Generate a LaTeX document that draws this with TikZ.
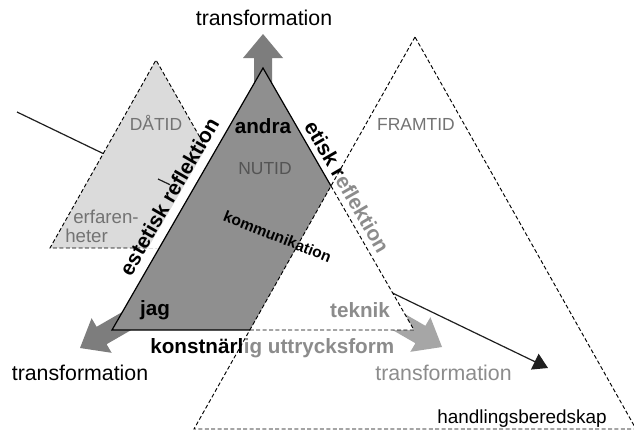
\documentclass[tikz,border=0pt]{standalone}
\usepackage{fontspec}
\setmainfont{Liberation Sans}
\usetikzlibrary{arrows.meta}
\definecolor{darkfill}{gray}{0.56}
\definecolor{pastfill}{gray}{0.86}
\definecolor{arrowgray}{gray}{0.49}
\definecolor{lightarrow}{gray}{0.65}
\definecolor{labelgray}{gray}{0.45}
\definecolor{nowgray}{gray}{0.33}
\definecolor{softgray}{gray}{0.55}
\definecolor{inkline}{gray}{0.12}

\begin{document}
\begin{tikzpicture}[x=0.75pt,y=-0.75pt,
  solidedge/.style={draw=black, line width=0.9pt, line join=miter},
  dashededge/.style={draw=black, line width=0.7pt, dash pattern=on 3pt off 1.8pt},
  timelabel/.style={inner sep=0pt, font=\fontsize{13.1}{15}\selectfont, text=labelgray},
  notelabel/.style={inner sep=0pt, font=\fontsize{14}{16}\selectfont, text=labelgray},
  boldlabel/.style={inner sep=0pt, font=\fontsize{15.5}{18}\selectfont\bfseries},
  sidelabel/.style={inner sep=0pt, font=\fontsize{15.7}{18}\selectfont\bfseries},
  caption/.style={inner sep=0pt, font=\fontsize{16}{19}\selectfont},
]
\fill[white] (0,0) rectangle (634,432);
\useasboundingbox (0,0) rectangle (634,432);
\clip (0,0) rectangle (634,432);

% corners of the three time triangles
\coordinate (pastTop) at (156,60);
\coordinate (pastLeft) at (50,248);
\coordinate (pastJoin) at (206,148);
\coordinate (pastBase) at (157,248);
\coordinate (nowTop) at (263,68);
\coordinate (nowLeft) at (112,330);
\coordinate (nowRight) at (414,330);
\coordinate (nowCut) at (331,186);
\coordinate (nowCutBase) at (250,330);
\coordinate (nextTop) at (415,37);
\coordinate (nextLeft) at (194,429);
\coordinate (nextRight) at (636,429);

% the long line towards readiness for action
\coordinate (lineStart) at (17,112);
\coordinate (lineEnd) at (548,368);
\draw[inkline, line width=0.9pt, -{Triangle[length=11pt,width=13pt]}] (lineStart) -- (lineEnd);

% block arrows of transformation
\fill[arrowgray] (254,110) -- (254,58) -- (243,58) -- (263,34) -- (283,58) -- (272,58) -- (272,110) -- cycle;
\fill[arrowgray] (131.3,306.8) -- (96.6,326.8) -- (91.6,318.2) -- (80,348) -- (111.6,352.8) -- (106.6,344.2) -- (141.3,324.2) -- cycle;
\fill[lightarrow] (390.7,305.8) -- (425.4,325.8) -- (430.4,317.2) -- (442,347) -- (410.4,351.8) -- (415.4,343.2) -- (380.7,323.2) -- cycle;

% the past
\fill[pastfill] (pastTop) -- (pastLeft) -- (pastBase) -- (190,248) -- (235,200) -- cycle;
\draw[dashededge] (pastJoin) -- (pastTop) -- (pastLeft) -- (pastBase);
% white strip along the left side of the present
\fill[white] (210.2,141) -- (147.8,248.5) -- (158.2,248.5) -- (220.6,141) -- cycle;
\draw[inkline, line width=0.9pt] (158,179) -- (170,184.7);

% the present
\fill[white] (nowTop) -- (nowLeft) -- (nowRight) -- cycle;
\fill[darkfill] (nowTop) -- (nowLeft) -- (nowCutBase) -- (nowCut) -- cycle;
\draw[solidedge] (nowCut) -- (nowTop) -- (nowLeft) -- (nowCutBase);
\draw[dashededge] (nowCut) -- (nowRight) -- (nowCutBase);

% the future
\draw[dashededge] (nextTop) -- (nextLeft) -- (nextRight) -- cycle;

% labels of the triangles
\node[timelabel, anchor=base] (past) at (156,130) {DÅTID};
\node[timelabel, anchor=base, text=nowgray] (now) at (265,174) {NUTID};
\node[timelabel, anchor=base] (next) at (416,130) {FRAMTID};
\node[notelabel, anchor=base west] (exp1) at (73,223) {erfaren-};
\node[notelabel, anchor=base west] (exp2) at (65,242) {heter};

\node[boldlabel, anchor=base] (others) at (263,133) {andra};
\node[boldlabel, anchor=base] (self) at (155,315) {jag};
\node[boldlabel, anchor=base, text=softgray] (tech) at (360,317) {teknik};
\node[inner sep=0pt, font=\fontsize{11.6}{14}\selectfont\bfseries, rotate=-21.5] (comm) at (277.5,236.5) {kommunikation};

% reflections along the sides of the present, fading where they enter the future
\node[sidelabel, anchor=base, rotate=60] (aesth) at (175.5,200) {estetisk reflektion};
\node[sidelabel, anchor=base west, rotate=-60] (ethicA) at (303.6,126) {etisk r};
\node[sidelabel, anchor=base west, rotate=-60, text=softgray] (ethicB) at (ethicA.base east) {eflektion};
\node[boldlabel, anchor=base west] (formA) at (150,353) {konstnärl};
\node[boldlabel, anchor=base west, text=softgray] (formB) at (formA.base east) {ig uttrycksform};

% captions
\node[caption, anchor=base] (tUp) at (264,26) {transformation};
\node[caption, anchor=base] (tLeft) at (80,380) {transformation};
\node[caption, anchor=base, text=softgray] (tRight) at (443.5,380) {transformation};
\node[inner sep=0pt, font=\fontsize{14.2}{17}\selectfont, anchor=base] (ready) at (522,423) {handlingsberedskap};
\end{tikzpicture}
\end{document}
